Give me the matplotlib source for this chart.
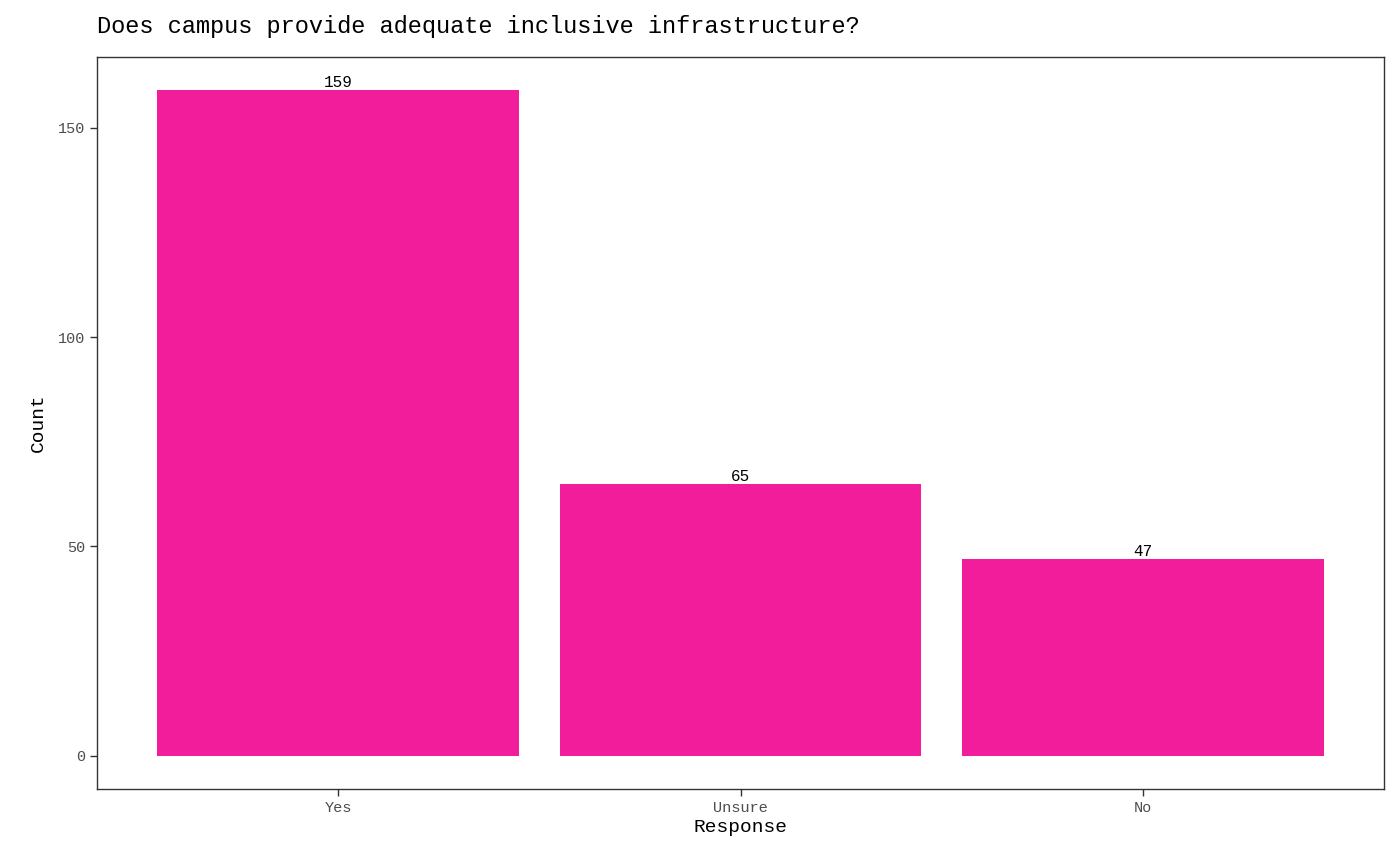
import matplotlib
matplotlib.use("Agg")
import matplotlib.pyplot as plt

categories = ["Yes", "Unsure", "No"]
counts = [159, 65, 47]

plt.rcParams['font.family'] = ['Liberation Mono', 'DejaVu Sans Mono']
fig = plt.figure(figsize=(14, 8.65), dpi=100)
ax = fig.add_axes([97/1400, 1-789/865, (1384-97)/1400, (789-57)/865])
x = list(range(1, len(categories)+1))
ax.bar(x, counts, width=0.9, color="#F21D9B")
for xi, c in zip(x, counts):
    ax.text(xi, c, str(c), ha="center", va="bottom", fontsize=11.5, color="black")
ax.set_xlim(0.4, 3.6)
ax.set_ylim(-7.95, 166.95)
ax.set_xticks(x)
ax.set_xticklabels(categories)
ax.set_yticks([0, 50, 100, 150])
ax.tick_params(labelsize=11, colors="#333333", length=5, width=1)
ax.tick_params(labelcolor="#4d4d4d")
for s in ax.spines.values():
    s.set_color("#333333"); s.set_linewidth(1)
ax.set_xlabel("Response", fontsize=14, labelpad=3)
ax.set_ylabel("Count", fontsize=14, labelpad=8)
fig.text(97/1400, 1-27/865, "Does campus provide adequate inclusive infrastructure?", fontsize=17, va="center", ha="left")
fig.savefig("out.png", dpi=100)
